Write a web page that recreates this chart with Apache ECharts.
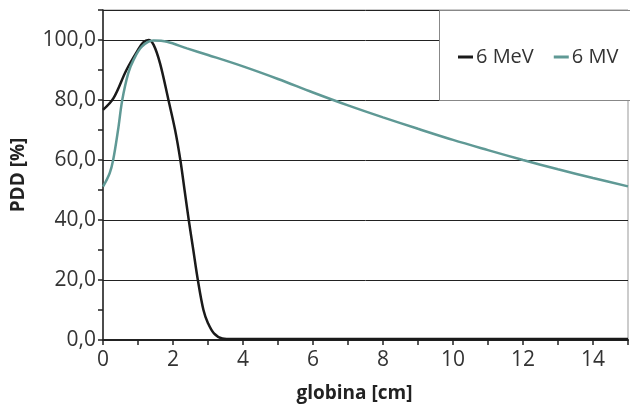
<!DOCTYPE html>
<html><head><meta charset="utf-8">
<script src="https://cdn.jsdelivr.net/npm/echarts@6/dist/echarts.min.js"></script>
<style>html,body{margin:0;padding:0;background:#fff}#c{width:630px;height:406px}</style>
</head><body><div id="c"></div>
<script>
var meDepth = [0, 0.3, 0.67, 1.0, 1.15, 1.3, 1.45, 1.63, 1.87, 2.06, 2.21, 2.33, 2.45, 2.58, 2.71, 2.87, 3.0, 3.17, 3.41, 3.7, 5, 15];
var meDose  = [76.7, 80.6, 90, 96.7, 99.2, 100, 98.3, 92.2, 80, 70, 60, 50, 40, 30, 20, 10, 5.6, 2.2, 0.5, 0.3, 0.3, 0.3];
var mvDepth = [0, 0.19, 0.29, 0.43, 0.55, 0.72, 0.87, 1.11, 1.44, 1.83, 2.4, 3, 4, 5, 6, 7, 8, 9, 10, 11, 12, 13, 14, 15];
var mvDose  = [51.1, 55.6, 60, 70, 80, 88.9, 93.3, 97.8, 99.8, 99.4, 97.2, 95, 91.2, 87, 82.5, 78.2, 74.2, 70.4, 66.7, 63.3, 60, 56.9, 54, 51.2];
var seriesNames = ['6 MeV', '6 MV'];
var xTitle = 'globina [cm]';
var yTitle = 'PDD [%]';

function pairs(xs, ys){ return xs.map(function(x,i){ return [x, ys[i]]; }); }
var FONT = 'Open Sans';
var chart = echarts.init(document.getElementById('c'));
chart.setOption({
  animation: false,
  textStyle: {fontFamily: FONT},
  grid: {left: 103, right: 2, top: 10, bottom: 66, containLabel: false, outerBoundsMode: 'none',
    show: true, borderColor: '#999', borderWidth: 1, backgroundColor: 'transparent'},
  xAxis: {
    type: 'value', min: 0, max: 15, interval: 2,
    name: xTitle, nameLocation: 'middle', nameGap: 44,
    nameTextStyle: {fontFamily: FONT, fontSize: 19, fontWeight: 'bold', color: '#222', padding: [0, 22, 0, 0]},
    axisLine: {onZero: false, lineStyle: {color: '#222', width: 2}},
    axisTick: {show: true, length: 5, lineStyle: {color: '#222', width: 1.5}},
    minorTick: {show: true, splitNumber: 2, length: 5, lineStyle: {color: '#222', width: 1.5}},
    axisLabel: {fontFamily: FONT, fontSize: 21, color: '#333', margin: 10, showMaxLabel: false},
    splitLine: {show: false}
  },
  yAxis: {
    type: 'value', min: 0, max: 110, interval: 20,
    name: yTitle, nameLocation: 'middle', nameGap: 75, nameRotate: 90,
    nameTextStyle: {fontFamily: FONT, fontSize: 19, fontWeight: 'bold', color: '#222'},
    axisLine: {show: true, lineStyle: {color: '#222', width: 1.5}},
    axisTick: {show: true, length: 5, lineStyle: {color: '#222', width: 1.5}},
    minorTick: {show: true, splitNumber: 2, length: 5, lineStyle: {color: '#222', width: 1.5}},
    axisLabel: {fontFamily: FONT, fontSize: 21, color: '#333', margin: 7, showMaxLabel: false,
      formatter: function(v){ return v.toFixed(1).replace('.', ','); }},
    splitLine: {show: true, lineStyle: {color: '#222', width: 1}}
  },
  graphic: [{
    type: 'rect', left: 439, top: 10, z: 50,
    shape: {width: 200, height: 90},
    style: {fill: '#fff', stroke: '#888', lineWidth: 1}
  }],
  legend: {
    left: 453, top: 42, z: 60, itemGap: 20,
    icon: 'rect', itemWidth: 15, itemHeight: 3,
    textStyle: {fontFamily: FONT, fontSize: 20, color: '#333', padding: [0,0,0,-2]},
    data: seriesNames
  },
  series: [
    {name: seriesNames[0], type: 'line', data: pairs(meDepth, meDose), smooth: 0.35,
      showSymbol: false, color: '#1a1a1a', lineStyle: {width: 2.5}},
    {name: seriesNames[1], type: 'line', data: pairs(mvDepth, mvDose), smooth: 0.35,
      showSymbol: false, color: '#5f9995', lineStyle: {width: 2.5}}
  ]
});
</script></body></html>
